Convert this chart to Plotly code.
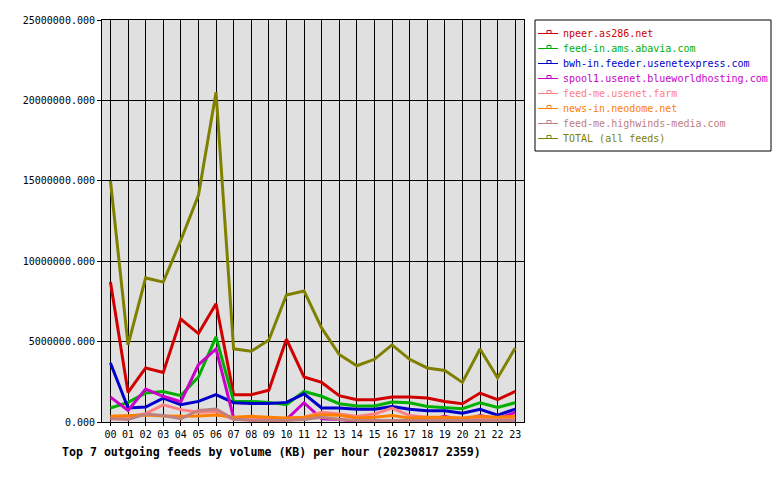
import plotly.graph_objects as go

hours = ["%02d" % h for h in range(24)]

names = ["npeer.as286.net", "feed-in.ams.abavia.com", "bwh-in.feeder.usenetexpress.com",
         "spool1.usenet.blueworldhosting.com", "feed-me.usenet.farm", "news-in.neodome.net",
         "feed-me.highwinds-media.com", "TOTAL (all feeds)"]
colors = ["#d00000", "#00b000", "#0000c8", "#c800c8", "#ff8080", "#ff8000", "#c08080", "#808000"]

npeer = [8.7e6, 1.84e6, 3.36e6, 3.08e6, 6.4e6, 5.5e6, 7.35e6, 1.7e6, 1.7e6, 1.97e6, 5.15e6, 2.8e6,
         2.46e6, 1.64e6, 1.39e6, 1.39e6, 1.55e6, 1.55e6, 1.49e6, 1.28e6, 1.14e6, 1.8e6, 1.39e6, 1.9e6]
abavia = [0.87e6, 1.22e6, 1.8e6, 1.9e6, 1.64e6, 2.8e6, 5.3e6, 1.28e6, 1.28e6, 1.22e6, 1.07e6, 1.9e6,
          1.6e6, 1.14e6, 1.0e6, 1.0e6, 1.24e6, 1.2e6, 0.97e6, 0.9e6, 0.83e6, 1.2e6, 0.9e6, 1.2e6]
bwh = [3.67e6, 0.87e6, 0.93e6, 1.49e6, 1.07e6, 1.28e6, 1.7e6, 1.2e6, 1.15e6, 1.15e6, 1.22e6, 1.75e6,
       0.87e6, 0.87e6, 0.8e6, 0.8e6, 0.97e6, 0.8e6, 0.7e6, 0.7e6, 0.54e6, 0.79e6, 0.43e6, 0.8e6]
spool1 = [1.55e6, 0.72e6, 2.05e6, 1.6e6, 1.26e6, 3.56e6, 4.54e6, 0.25e6, 0.25e6, 0.2e6, 0.15e6, 1.2e6,
          0.2e6, 0.15e6, 0.05e6, 0.05e6, 0.05e6, 0.05e6, 0.1e6, 0.35e6, 0.1e6, 0.4e6, 0.2e6, 0.6e6]
usenetfarm = [0.25e6, 0.33e6, 0.52e6, 1.07e6, 0.77e6, 0.6e6, 0.65e6, 0.15e6, 0.15e6, 0.2e6, 0.2e6, 0.3e6,
              0.6e6, 0.5e6, 0.35e6, 0.5e6, 0.87e6, 0.4e6, 0.3e6, 0.25e6, 0.2e6, 0.3e6, 0.2e6, 0.3e6]
neodome = [0.35e6, 0.37e6, 0.43e6, 0.38e6, 0.35e6, 0.38e6, 0.43e6, 0.3e6, 0.35e6, 0.3e6, 0.25e6, 0.3e6,
           0.45e6, 0.42e6, 0.25e6, 0.3e6, 0.4e6, 0.25e6, 0.3e6, 0.3e6, 0.25e6, 0.35e6, 0.3e6, 0.35e6]
highwinds = [0.2e6, 0.15e6, 0.5e6, 0.4e6, 0.2e6, 0.72e6, 0.8e6, 0.18e6, 0.1e6, 0.1e6, 0.1e6, 0.15e6,
             0.3e6, 0.15e6, 0.1e6, 0.1e6, 0.1e6, 0.1e6, 0.1e6, 0.1e6, 0.1e6, 0.1e6, 0.1e6, 0.1e6]
total = [15.0e6, 4.8e6, 8.96e6, 8.7e6, 11.3e6, 14.1e6, 20.5e6, 4.55e6, 4.4e6, 5.1e6, 7.9e6, 8.15e6,
         5.85e6, 4.2e6, 3.5e6, 3.9e6, 4.8e6, 3.9e6, 3.36e6, 3.2e6, 2.46e6, 4.54e6, 2.74e6, 4.6e6]

series = [npeer, abavia, bwh, spool1, usenetfarm, neodome, highwinds, total]

y_ticks = [0, 5e6, 10e6, 15e6, 20e6, 25e6]

FONT = "DejaVu Sans Mono"

# plot area in pixels
PL, PR, PT, PB = 102, 524, 20, 422


def px(xp):
    return (xp - PL) / (PR - PL)


def py(yp):
    return (PB - yp) / (PB - PT)


fig = go.Figure()
for name, col, vals in zip(names, colors, series):
    fig.add_trace(go.Scatter(x=hours, y=vals, mode="lines", line=dict(color=col, width=3),
                             name=name, showlegend=False, hoverinfo="skip"))

# hand-built legend box (matches original compact layout)
shapes = [dict(type="rect", xref="paper", yref="paper", x0=px(535), x1=px(771), y0=py(151), y1=py(20),
               line=dict(color="black", width=1), fillcolor="white", layer="above")]
annotations = []
for i, (name, col) in enumerate(zip(names, colors)):
    yc = 33.5 + 15 * i
    shapes.append(dict(type="line", xref="paper", yref="paper", x0=px(538), x1=px(558),
                       y0=py(yc), y1=py(yc), line=dict(color=col, width=1), layer="above"))
    shapes.append(dict(type="rect", xref="paper", yref="paper", x0=px(547), x1=px(551),
                       y0=py(yc), y1=py(yc - 3), line=dict(color=col, width=1), layer="above"))
    annotations.append(dict(text=name, xref="paper", yref="paper", x=px(561), y=py(yc),
                            xanchor="left", yanchor="middle", showarrow=False,
                            font=dict(family=FONT, size=10, color=col)))

annotations.append(dict(text="<b>Top 7 outgoing feeds by volume (KB) per hour (20230817 2359)</b>",
                        xref="paper", yref="paper", x=px(271.5), y=py(452), xanchor="center",
                        yanchor="middle", showarrow=False,
                        font=dict(family=FONT, size=11.6, color="black")))

fig.update_layout(
    width=780, height=480,
    margin=dict(l=PL, r=780 - PR, t=PT, b=480 - PB, autoexpand=False),
    paper_bgcolor="white", plot_bgcolor="#e0e0e0",
    font=dict(family=FONT, size=10, color="black"),
    showlegend=False,
    shapes=shapes,
    annotations=annotations,
)
fig.update_xaxes(type="category", range=[-0.48, 23.5], showgrid=True, gridcolor="black", gridwidth=1,
                 showline=True, linecolor="black", linewidth=1, mirror=True,
                 ticks="outside", ticklen=3, tickcolor="black", zeroline=False,
                 tickfont=dict(family=FONT, size=10))
fig.update_yaxes(range=[0, 25e6], tickvals=y_ticks, tickformat=".3f", showgrid=True, gridcolor="black",
                 gridwidth=1, showline=True, linecolor="black", linewidth=1, mirror=True,
                 ticks="outside", ticklen=4, tickcolor="black", zeroline=False,
                 tickfont=dict(family=FONT, size=10))

fig.write_html("out.html")
